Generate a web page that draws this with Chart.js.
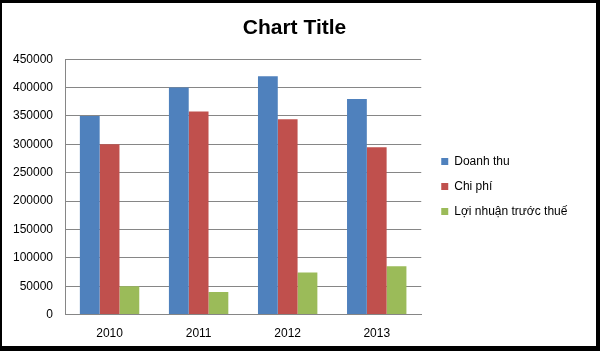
<!DOCTYPE html>
<html>
<head>
<meta charset="utf-8">
<script src="https://cdn.jsdelivr.net/npm/chart.js@4/dist/chart.umd.min.js"></script>
<style>
  html, body { margin: 0; padding: 0; background: #000; }
  #wrap { position: absolute; left: 2px; top: 3px; width: 594px; height: 343px; background: #fff; }
</style>
</head>
<body>
<div id="wrap"><canvas id="chart" width="594" height="343"></canvas></div>
<script>
const years = ['2010', '2011', '2012', '2013'];
const doanhThu = [350000, 400000, 420000, 380000];
const chiPhi = [300000, 358000, 344000, 295000];
const loiNhuan = [50000, 40000, 74000, 85000];

const font = "'Liberation Sans', Arial, sans-serif";
Chart.defaults.font.family = font;
Chart.defaults.font.size = 12;
Chart.defaults.color = '#000';

// widen the legend box so the plot area ends where Excel's does,
// and draw the legend items a little lower and further right
const legendFix = {
  id: 'legendFix',
  beforeInit(chart) {
    const lg = chart.legend;
    const fit = lg.fit;
    lg.fit = function () {
      fit.call(this);
      this.width += 20;
    };
    const inner = lg._draw;
    lg._draw = function () {
      const c = this.ctx;
      c.save();
      c.translate(7, 10);
      inner.call(this);
      c.restore();
    };
  }
};

const ctx = document.getElementById('chart').getContext('2d');
const chart = new Chart(ctx, {
  type: 'bar',
  data: {
    labels: years,
    datasets: [
      { label: 'Doanh thu', data: doanhThu, backgroundColor: '#4F81BD' },
      { label: 'Chi phí', data: chiPhi, backgroundColor: '#C0504D' },
      { label: 'Lợi nhuận trước thuế', data: loiNhuan, backgroundColor: '#9BBB59' }
    ]
  },
  options: {
    responsive: false,
    animation: false,
    categoryPercentage: 0.667,
    barPercentage: 1,
    layout: { padding: { left: -1, right: 8, top: 5, bottom: 1 } },
    plugins: {
      title: {
        display: true,
        text: 'Chart Title',
        font: { size: 21, weight: 'bold', family: font },
        padding: { top: 8, bottom: 18 }
      },
      legend: {
        position: 'right',
        labels: { boxWidth: 7, boxHeight: 7, padding: 13, font: { size: 12 } }
      },
      tooltip: { enabled: false }
    },
    scales: {
      x: {
        grid: { display: false },
        border: { color: '#868686' },
        ticks: { padding: 4 }
      },
      y: {
        min: 0,
        max: 450000,
        ticks: { stepSize: 50000, padding: 12, callback: v => String(v) },
        grid: { color: '#868686', drawTicks: false },
        border: { color: '#868686' }
      }
    }
  },
  plugins: [legendFix]
});
</script>
</body>
</html>
